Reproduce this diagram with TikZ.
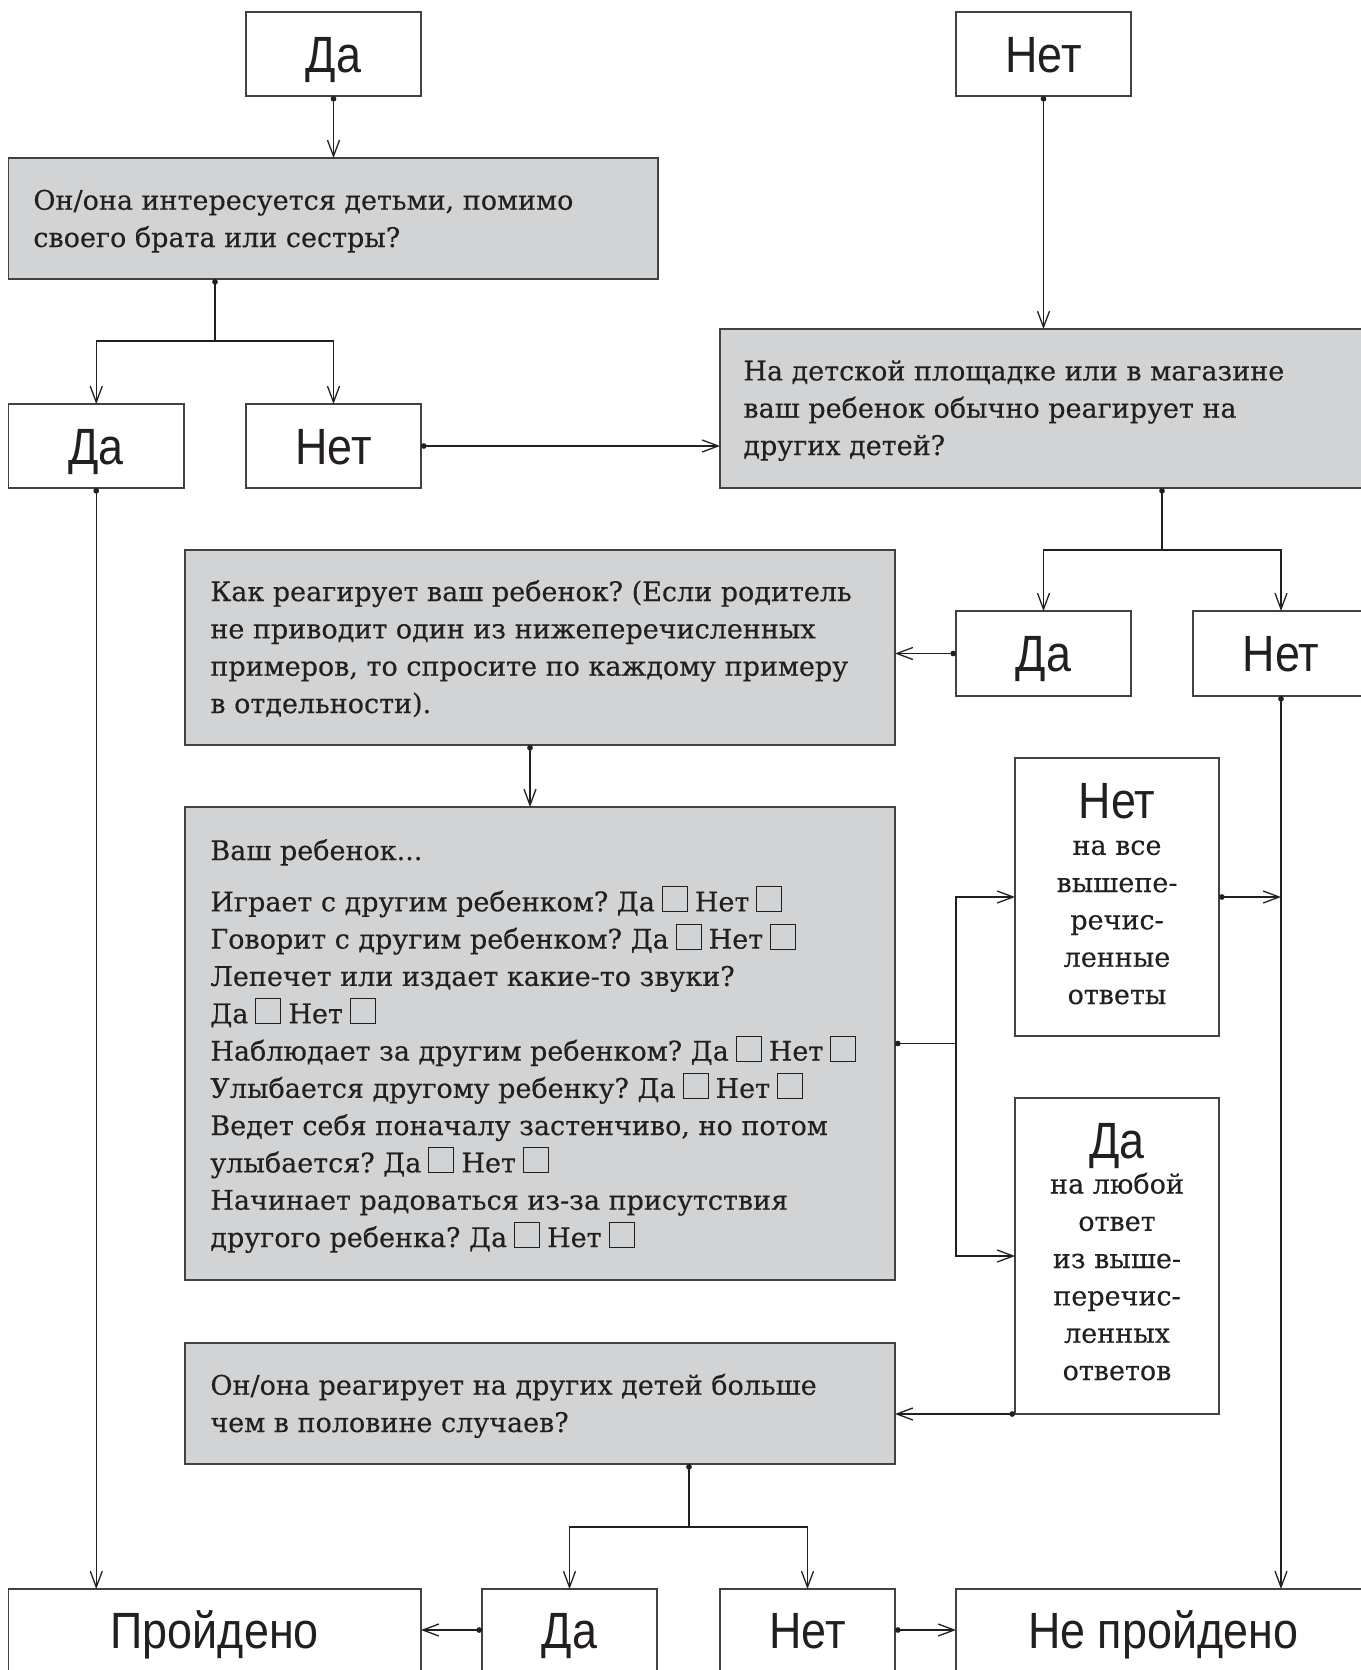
\documentclass[tikz,border=0pt]{standalone}
\usepackage{fontspec}
\setmainfont[FakeBold=0.35]{DejaVu Serif}
\newfontfamily\lblfont[FakeStretch=0.88]{Liberation Sans}
\usetikzlibrary{arrows.meta}
\definecolor{boxgray}{RGB}{209,211,212}
\definecolor{ink}{RGB}{35,31,32}
\frenchspacing
\newcommand\bodyf{\fontsize{13.5}{18.65}\selectfont}
\newcommand\lblf{\lblfont\fontsize{25.5}{28}\selectfont}
\newcommand\ckbox{\hspace{3.5pt}{\setlength\fboxsep{0pt}\setlength\fboxrule{0.5pt}\fbox{\rule{0pt}{12pt}\hspace{12pt}}}\hspace{3.5pt}}
\begin{document}
\begin{tikzpicture}[x=0.5pt,y=-0.5pt,
  lbox/.style={draw=ink!85, line width=0.8pt, fill=white, inner sep=0pt, outer sep=0pt, font=\lblf, text=ink, text height=18.3pt, text depth=0pt},
  qbox/.style={draw=ink!85, line width=0.8pt, fill=boxgray, inner sep=0pt, outer sep=0pt},
  wbox/.style={draw=ink!85, line width=0.8pt, fill=white, inner sep=0pt, outer sep=0pt},
  txt/.style={font=\bodyf, text=ink, align=left, inner sep=0pt, anchor=base west},
  ctxt/.style={font=\bodyf, text=ink, align=center, inner sep=0pt, anchor=base},
  htxt/.style={font=\lblf, text=ink, inner sep=0pt, anchor=base},
  conn/.style={draw=ink, line width=0.65pt, {Circle[length=2.8pt]}-{Straight Barb[length=8pt,width=6pt]}},
  dotline/.style={draw=ink, line width=0.65pt, {Circle[length=2.8pt]}-},
  arrowonly/.style={draw=ink, line width=0.65pt, -{Straight Barb[length=8pt,width=6pt]}}
]
\fill[white] (0,0) rectangle (1360,1670);
\useasboundingbox (0,0) rectangle (1360,1670);

% top row
\node[lbox, minimum width=87.5pt, minimum height=42pt] (da1) at (333.5,54) {Да};
\node[lbox, minimum width=87.5pt, minimum height=42pt] (net1) at (1043.5,54) {Нет};

\node[qbox, minimum width=324.75pt, minimum height=60.5pt] (q1) at (333.25,218.5) {};
\node[txt] (q1t) at (33,247) {Он/она интересуется детьми, помимо\\своего брата или сестры?};

\node[lbox, minimum width=87.75pt, minimum height=42pt] (da2) at (96.25,446) {Да};
\node[lbox, minimum width=87.5pt, minimum height=42pt] (net2) at (333.5,446) {Нет};

\node[qbox, minimum width=321pt, minimum height=79.5pt] (q2) at (1041,408.5) {};
\node[txt] (q2t) at (743,455) {На детской площадке или в магазине\\ваш ребенок обычно реагирует на\\других детей?};

\node[qbox, minimum width=355pt, minimum height=97.5pt] (q3) at (540,647.5) {};
\node[txt] (q3t) at (210,713) {Как реагирует ваш ребенок? (Если родитель\\не приводит один из нижеперечисленных\\примеров, то спросите по каждому примеру\\в отдельности).};

\node[lbox, minimum width=87.5pt, minimum height=42.5pt] (da3) at (1043.5,653.5) {Да};
\node[lbox, minimum width=88pt, minimum height=42.5pt] (net3) at (1281,653.5) {Нет};

\node[qbox, minimum width=355pt, minimum height=236.5pt] (q4) at (540,1043.5) {};
\node[txt] (q4t) at (210,1247) {Ваш ребенок...\\[7pt]
Играет с другим ребенком? Да\ckbox Нет\ckbox\\
Говорит с другим ребенком? Да\ckbox Нет\ckbox\\
Лепечет или издает какие-то звуки?\\
Да\ckbox Нет\ckbox\\
Наблюдает за другим ребенком? Да\ckbox Нет\ckbox\\
Улыбается другому ребенку? Да\ckbox Нет\ckbox\\
Ведет себя поначалу застенчиво, но потом\\
улыбается? Да\ckbox Нет\ckbox\\
Начинает радоваться из-за присутствия\\
другого ребенка? Да\ckbox Нет\ckbox};

\node[wbox, minimum width=102pt, minimum height=139pt] (netall) at (1117,897) {};
\node[htxt] (netallh) at (1117,818) {Нет};
\node[ctxt] (netallt) at (1117,1004) {на все\\вышепе-\\речис-\\ленные\\ответы};

\node[wbox, minimum width=102pt, minimum height=158pt] (daany) at (1117,1256) {};
\node[htxt] (daanyh) at (1117,1158) {Да};
\node[ctxt] (daanyt) at (1117,1380) {на любой\\ответ\\из выше-\\перечис-\\ленных\\ответов};

\node[qbox, minimum width=355pt, minimum height=60.5pt] (q5) at (540,1403.5) {};
\node[txt] (q5t) at (210,1432) {Он/она реагирует на других детей больше\\чем в половине случаев?};

% bottom row
\node[lbox, minimum width=206.25pt, minimum height=41pt] (pass) at (214.75,1630) {Пройдено};
\node[lbox, minimum width=87.5pt, minimum height=41pt] (da4) at (569.5,1630) {Да};
\node[lbox, minimum width=87.5pt, minimum height=41pt] (net4) at (807.5,1630) {Нет};
\node[lbox, minimum width=207pt, minimum height=41pt] (fail) at (1163,1630) {Не пройдено};

% junctions
\coordinate (j1) at (215,341);
\coordinate (j2) at (1162,550);
\coordinate (j3) at (530,0);
\coordinate (j4) at (956,0);
\coordinate (j5) at (689,1527);

% connectors
\draw[conn] (da1.south) -- (q1.north -| da1.south);
\draw[dotline] (q1.south -| j1) -- (j1);
\draw[arrowonly] (j1) -| (da2.north);
\draw[arrowonly] (j1) -| (net2.north);
\draw[conn] (net1.south) -- (q2.north -| net1.south);
\draw[conn] (net2.east) -- (q2.west |- net2.east);
\draw[dotline] (q2.south -| j2) -- (j2);
\draw[arrowonly] (j2) -| (da3.north);
\draw[arrowonly] (j2) -| (net3.north);
\draw[conn] (da3.west) -- (q3.east |- da3.west);
\draw[conn] (q3.south -| j3) -- (q4.north -| j3);
\draw[dotline] (q4.east) -- (q4.east -| j4);
\draw[arrowonly] (q4.east -| j4) |- (netall.west);
\draw[arrowonly] (q4.east -| j4) |- (daany.west);
\draw[conn] (netall.east) -- (netall.east -| net3.south);
\draw[conn] (net3.south) -- (fail.north -| net3.south);
\draw[conn] (da2.south) -- (pass.north -| da2.south);
\draw[conn] (daany.south west) -- (q5.east |- daany.south west);
\draw[dotline] (q5.south -| j5) -- (j5);
\draw[arrowonly] (j5) -| (da4.north);
\draw[arrowonly] (j5) -| (net4.north);
\draw[conn] (da4.west) -- (pass.east);
\draw[conn] (net4.east) -- (fail.west);
\end{tikzpicture}
\end{document}
